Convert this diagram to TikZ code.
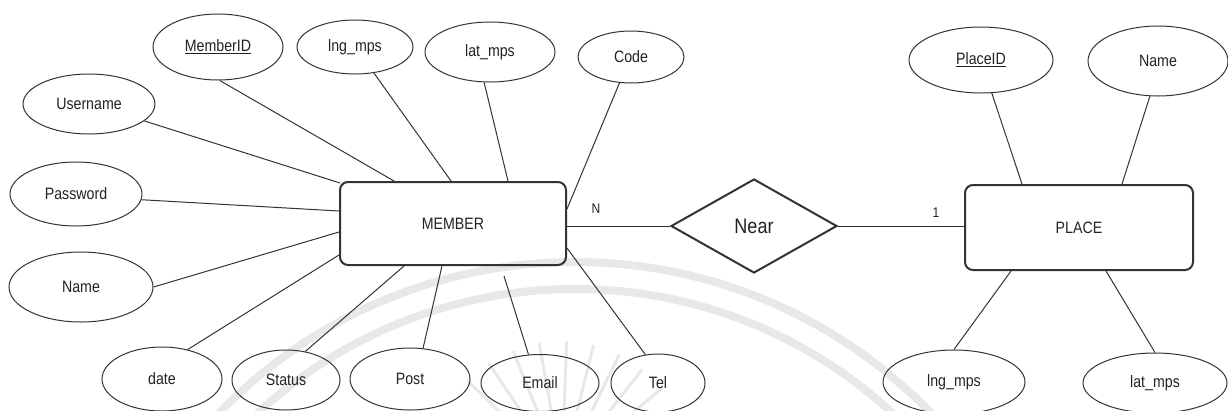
\documentclass[tikz,border=0pt]{standalone}
\usepackage{fontspec}
\setmainfont{Liberation Sans}[FakeStretch=0.86]
\usetikzlibrary{shapes.geometric,calc}

\definecolor{inkline}{HTML}{333333}
\definecolor{inktext}{HTML}{222222}
\definecolor{wmark}{HTML}{E8E8E8}

\begin{document}
\begin{tikzpicture}[x=1pt,y=-1pt,
  lbl/.style={font=\fontsize{16.5}{18}\selectfont, text=inktext},
  attr/.style={lbl, ellipse, draw=inkline, line width=1pt, inner sep=0pt},
  entity/.style={lbl, rectangle, draw=inkline, line width=2pt, rounded corners=8pt, inner sep=0pt},
  rel/.style={diamond, draw=inkline, line width=2pt, inner sep=0pt,
    font=\fontsize{21}{24}\selectfont, text=inktext},
  link/.style={draw=inkline, line width=1pt},
  card/.style={font=\fontsize{14}{16}\selectfont, text=inktext},
  wm/.style={draw=wmark, line width=8pt},
  ray/.style={draw=wmark, line width=3pt, line cap=round}]

\useasboundingbox (0,0) rectangle (1228,410);

% faint emblem in the background
\begin{scope}
  \clip (0,0) rectangle (1228,410);
  \coordinate (wc) at (575,757);
  \draw[wm] (wc) circle[radius=495pt];
  \draw[wm] (wc) circle[radius=468pt];
  \coordinate (rc) at (562,472);
  \foreach \a in {-40,-52,...,-140}
    \draw[ray] ($(rc)+(\a:55)$) -- ($(rc)+(\a:130)$);
\end{scope}

% entities and relationship
\node[entity, minimum width=226pt, minimum height=83pt] (member) at (453,223.5) {MEMBER};
\node[entity, minimum width=228pt, minimum height=85pt] (place) at (1079,227.5) {PLACE};
\node[rel, minimum width=166pt, minimum height=94pt] (near) at (754,226) {Near};

% MEMBER attributes
\node[attr, minimum width=130pt, minimum height=66pt] (mid)   at (218,47)  {\underline{MemberID}};
\node[attr, minimum width=116pt, minimum height=54pt] (mlng)  at (355,47)  {lng\_mps};
\node[attr, minimum width=130pt, minimum height=60pt] (mlat)  at (490,52)  {lat\_mps};
\node[attr, minimum width=106pt, minimum height=52pt] (code)  at (631,57)  {Code};
\node[attr, minimum width=132pt, minimum height=60pt] (user)  at (89,104)  {Username};
\node[attr, minimum width=132pt, minimum height=64pt] (pass)  at (76,194)  {Password};
\node[attr, minimum width=144pt, minimum height=70pt] (mname) at (81,287)  {Name};
\node[attr, minimum width=120pt, minimum height=64pt] (date)  at (162,379) {date};
\node[attr, minimum width=108pt, minimum height=60pt] (stat)  at (286,380) {Status};
\node[attr, minimum width=120pt, minimum height=62pt] (post)  at (410,379) {Post};
\node[attr, minimum width=118pt, minimum height=57pt] (email) at (540,383) {Email};
\node[attr, minimum width=94pt,  minimum height=58pt] (tel)   at (658,383) {Tel};

% PLACE attributes
\node[attr, minimum width=144pt, minimum height=66pt] (pid)   at (981,60)   {\underline{PlaceID}};
\node[attr, minimum width=140pt, minimum height=70pt] (pname) at (1158,61)  {Name};
\node[attr, minimum width=142pt, minimum height=64pt] (plng)  at (954,382)  {lng\_mps};
\node[attr, minimum width=144pt, minimum height=60pt] (plat)  at (1155,383) {lat\_mps};

% attribute links of MEMBER
\draw[link] (mid.-87)   -- ($(member.north west)+(55,0)$);
\draw[link] (mlng.-54)  -- ($(member.north west)+(112,0)$);
\draw[link] (mlat.-101) -- ($(member.north west)+(169,0)$);
\draw[link] (code.-114) -- ($(member.north east)+(0,28)$);
\draw[link] (user.-17)  -- ($(member.north west)+(1,2)$);
\draw[link] (pass.-5)   -- ($(member.north west)+(0,30)$);
\draw[link] (mname.0)   -- ($(member.north west)+(0,51)$);
\draw[link] (date.49)   -- ($(member.north west)+(0,74)$);
\draw[link] (stat.56)   -- ($(member.south west)+(65,0)$);
\draw[link] (post.67)   -- ($(member.south west)+(103,0)$);
\coordinate (emailend) at ($(member.south west)+(165,10)$);
\draw[link] (email.112) -- (emailend);
\draw[link] (tel.114)   -- ($(member.north east)+(0,67)$);

% attribute links of PLACE
\draw[link] (pid.-72)   -- ($(place.north west)+(58,0)$);
\draw[link] (pname.-103)-- ($(place.north west)+(158,0)$);
\draw[link] (plng.90)   -- ($(place.south west)+(47,0)$);
\draw[link] (plat.90)   -- ($(place.south west)+(142,0)$);

% relationship links with cardinalities
\draw[link] (member.east |- near.west) -- (near.west);
\draw[link] (near.east) -- (near.east -| place.west);
\node[card] (cardn) at (596,209) {N};
\node[card] (card1) at (936,213) {1};

\end{tikzpicture}
\end{document}
